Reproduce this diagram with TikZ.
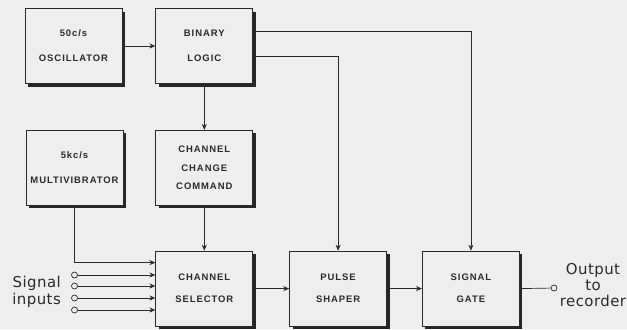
\documentclass[tikz,border=0pt]{standalone}
\usepackage{fontspec}
\usepackage{tikz}
\usetikzlibrary{positioning,arrows.meta,shadows}
\newfontfamily\blkfont[LetterSpace=10]{Liberation Sans}
\newfontfamily\lblfont[LetterSpace=3]{DejaVu Sans}
\definecolor{paper}{HTML}{EEEEEE}
\definecolor{ink}{HTML}{2A2A2A}

\begin{document}
\begin{tikzpicture}[x=1bp, y=-1bp,
    blk/.style={draw=ink, line width=0.8bp, fill=paper, minimum width=97bp, minimum height=75bp,
                align=center, inner sep=0pt, text=ink, font=\blkfont\bfseries\fontsize{9.5}{25}\selectfont,
                drop shadow={shadow xshift=3bp, shadow yshift=-3bp, fill=black!85, opacity=1}},
    arr/.style={-{Stealth[length=6bp, width=5bp]}, ink, line width=0.7bp},
    term/.style={circle, draw=ink, fill=paper, inner sep=0pt, minimum size=6bp, line width=0.7bp},
    lbl/.style={font=\lblfont\fontsize{15}{16.5}\selectfont, text=ink, inner sep=0pt},
    node distance=45bp and 33bp
]
\useasboundingbox[fill=paper] (0,0) rectangle (627,329);

\node[blk] (osc) at (73.5,46) {50c/s\\OSCILLATOR};
\node[blk, right=33bp of osc] (logic) {BINARY\\LOGIC};
\node[blk, below=46bp of logic, font=\blkfont\bfseries\fontsize{9.5}{19}\selectfont] (change) {CHANNEL\\CHANGE\\COMMAND};
\node[blk, left=32bp of change] (mv) {5kc/s\\MULTIVIBRATOR};
\node[blk, below=45bp of change, font=\blkfont\bfseries\fontsize{9.5}{22}\selectfont] (sel) {CHANNEL\\SELECTOR};
\node[blk, right=36bp of sel, font=\blkfont\bfseries\fontsize{9.5}{22}\selectfont] (pulse) {PULSE\\SHAPER};
\node[blk, right=35bp of pulse, font=\blkfont\bfseries\fontsize{9.5}{22}\selectfont] (gate) {SIGNAL\\GATE};

% signal inputs
\foreach \y [count=\i] in {275,286,298,310} {
  \node[term] (in\i) at (mv.south |- 0,\y) {};
  \draw[arr] (in\i) -- (in\i -| sel.west);
}
\node[lbl, align=right, anchor=east] (siglbl) at (61,292) {Signal\\inputs};

\draw[arr] (osc.east) -- (osc.east -| logic.west);
\draw[arr] (logic) -- (change);
\draw[arr] (change) -- (sel);
\draw[arr] (mv.south) |- ([yshift=26bp]sel.west);
\draw[arr] (sel) -- (pulse);
\draw[arr] (pulse) -- (gate);
\draw[arr] ([yshift=14.5bp]logic.east) -| (gate.north);
\draw[arr] ([yshift=-10.5bp]logic.east) -| (pulse.north);

% output
\node[term] (out) at (554,288) {};
\draw[ink, line width=0.7bp] (gate.east) -- (out);
\node[lbl, align=center] (outlbl) at (593,285) {Output\\to\\recorder};
\end{tikzpicture}
\end{document}
